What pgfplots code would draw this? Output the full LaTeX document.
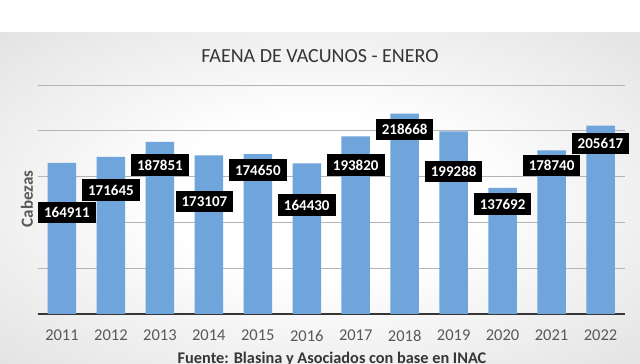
\documentclass[border=0pt]{standalone}
\usepackage{pgfplots}
\usepackage{pgfplotstable}
\pgfplotsset{compat=1.18}
\usepackage{fontspec}
\setmainfont{Carlito}
\definecolor{barblue}{HTML}{6FA5DA}
\definecolor{txtgray}{HTML}{595959}
\definecolor{ttlgray}{HTML}{363636}
\definecolor{gridgray}{HTML}{B4B4B4}
\definecolor{bgouter}{HTML}{C4C4C4}
\definecolor{bgmid}{HTML}{D2D2D2}
\pgfdeclareradialshading{bgshade}{\pgfpoint{0bp}{0bp}}{color(0bp)=(white); color(12bp)=(white); color(50bp)=(bgmid); color(75bp)=(bgouter)}
% bars: position, value
\pgfplotstableread{
pos val
0 164911
1 171645
2 187851
3 173107
4 174650
5 164430
6 193820
7 218668
8 199288
9 137692
10 178740
11 205617
}\bars
% data labels: position, label height, value
\pgfplotstableread{
lx ly lab
0.1 110590 164911
1 135370 171645
2 162660 187851
2.91 122600 173107
4 157200 174650
5 119000 164430
6 162660 193820
7 201640 218668
8 155350 199288
9 120090 137692
10 161900 178740
11 186350 205617
}\labels
\begin{document}
\begin{tikzpicture}[x=1pt,y=1pt]
\clip (0,0) rectangle (640,364);
\fill[white] (0,0) rectangle (640,364);
\shade[shading=bgshade] (0,0) rectangle (640,331);
\node[font=\fontsize{20}{20}\selectfont, text=ttlgray] at (320,308) {FAENA DE VACUNOS - ENERO};
\begin{axis}[
  at={(37.5pt,50pt)}, anchor=south west, scale only axis,
  width=587.5pt, height=229pt,
  xmin=-0.5, xmax=11.5, ymin=0, ymax=250000,
  xtick={0,...,11},
  xticklabels={2011,2012,2013,2014,2015,2016,2017,2018,2019,2020,2021,2022},
  ytick={50000,100000,150000,200000,250000}, yticklabels={},
  scaled y ticks=false,
  ymajorgrids, grid style={gridgray, line width=0.8pt},
  major tick length=0pt,
  axis x line*=bottom, axis y line*=left,
  y axis line style={draw=none},
  x axis line style={ttlgray, line width=1.6pt, -},
  xticklabel style={inner sep=0pt, yshift=-16pt, font=\fontsize{16.5}{16.5}\selectfont, text=txtgray},
  clip=false,
]
\addplot[ybar, bar width=28.5pt, bar shift=0pt, fill=barblue, draw=none] table[x index=0, y index=1] {\bars};
\addplot[only marks, mark=none, nodes near coords, point meta=explicit symbolic,
  nodes near coords style={anchor=center, fill=black, text=white,
    font=\bfseries\fontsize{15}{15}\selectfont, inner xsep=6pt, inner ysep=5.5pt,
    text height=10.5pt, text depth=0pt}]
  table[x index=0, y index=1, meta index=2] {\labels};
\end{axis}
\node[rotate=90, font=\bfseries\fontsize{17}{17}\selectfont, text=txtgray] at (27,165) {Cabezas};
\node[anchor=base, font=\bfseries\fontsize{16.3}{16.3}\selectfont, text=ttlgray] at (332,0.5) {Fuente: Blasina y Asociados con base en INAC};
\end{tikzpicture}
\end{document}
